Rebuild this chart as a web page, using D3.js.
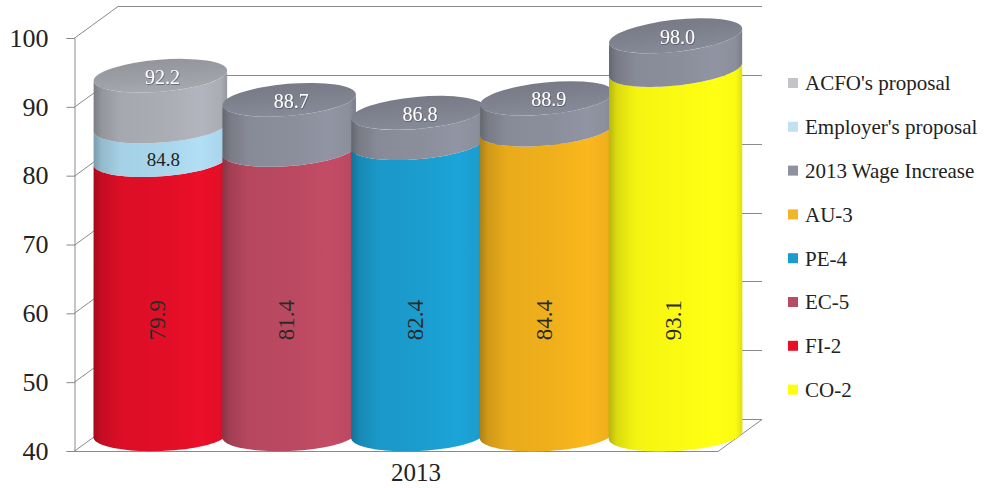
<!DOCTYPE html>
<html><head><meta charset="utf-8">
<script src="https://cdn.jsdelivr.net/npm/d3@7/dist/d3.min.js"></script>
<style>body{margin:0;background:#fff}svg{display:block}</style>
</head><body><svg id="c" width="986" height="488"></svg>
<script>
// ---- data ----
const category = "2013";
const groups = ["FI-2", "EC-5", "PE-4", "AU-3", "CO-2"];
const baseValues = [79.9, 81.4, 82.4, 84.4, 93.1];
const employerValues = [84.8, null, null, null, null];
const topValues = [92.2, 88.7, 86.8, 88.9, 98.0];
const topSeries = ["ACFO's proposal", "2013 Wage Increase", "2013 Wage Increase", "2013 Wage Increase", "2013 Wage Increase"];
const yTicks = [40, 50, 60, 70, 80, 90, 100];
const legendNames = ["ACFO's proposal", "Employer's proposal", "2013 Wage Increase", "AU-3", "PE-4", "EC-5", "FI-2", "CO-2"];
const seriesColors = {
  "ACFO's proposal": "#abadb5",
  "Employer's proposal": "#aad6ec",
  "2013 Wage Increase": "#8b8e9b",
  "AU-3": "#f0b01c",
  "PE-4": "#1b9dcf",
  "EC-5": "#bb4961",
  "FI-2": "#e20e27",
  "CO-2": "#fbfb12"
};
const legendColors = {
  "ACFO's proposal": "#c3c4c8",
  "Employer's proposal": "#bfe1f2",
  "2013 Wage Increase": "#8e929f",
  "AU-3": "#f2b52a",
  "PE-4": "#1d9bcc",
  "EC-5": "#b64c65",
  "FI-2": "#e81028",
  "CO-2": "#fdfd10"
};

// ---- layout ----
const svg = d3.select("#c");
const front = {x0: 74, x1: 718};
const depth = {dx: 44, dy: -32};
const y = d3.scaleLinear().domain([40, 100]).range([451, 38]);
const x = d3.scaleBand().domain(groups)
  .range([front.x0 + depth.dx / 2, front.x1 + depth.dx / 2]).paddingInner(0).paddingOuter(0);
const A = x.bandwidth() * 0.52, B = 16;
const yMid = v => y(v) + depth.dy / 2;

const defs = svg.append("defs");
const sh = defs.append("filter").attr("id", "tshadow").attr("x", "-20%").attr("y", "-20%").attr("width", "140%").attr("height", "140%");
sh.append("feDropShadow").attr("dx", 0.6).attr("dy", 0.8).attr("stdDeviation", 0.6).attr("flood-color", "#3a3c48").attr("flood-opacity", 0.7);
function shadeGrad(id, base) {
  const c = d3.color(base);
  const g = defs.append("linearGradient").attr("id", id)
    .attr("x1", "0").attr("x2", "1").attr("y1", "0").attr("y2", "0");
  [[0, c.darker(0.9)], [0.06, c.darker(0.4)], [0.2, c.darker(0.08)], [0.55, c], [0.8, c.brighter(0.12)], [0.95, c], [1, c.darker(0.35)]]
    .forEach(([o, col]) => g.append("stop").attr("offset", o).attr("stop-color", col.formatHex()));
  return "url(#" + id + ")";
}
function capGrad(id, base) {
  const c = d3.color(base);
  const g = defs.append("linearGradient").attr("id", id)
    .attr("x1", "0").attr("x2", "0").attr("y1", "0").attr("y2", "1");
  [[0, c.darker(0.3)], [0.6, c.darker(0.1)], [1, c.brighter(0.05)]]
    .forEach(([o, col]) => g.append("stop").attr("offset", o).attr("stop-color", col.formatHex()));
  return "url(#" + id + ")";
}

// ---- walls / axes ----
const wall = svg.append("g").attr("stroke", "#8a8a8a").attr("stroke-width", 1).attr("fill", "none");
yTicks.forEach(t => {
  const yy = Math.round(y(t)) + 0.5;
  wall.append("line").attr("x1", front.x0).attr("y1", yy).attr("x2", front.x0 + depth.dx).attr("y2", yy + depth.dy);
  wall.append("line").attr("x1", front.x0 + depth.dx).attr("y1", yy + depth.dy)
    .attr("x2", front.x1 + depth.dx).attr("y2", yy + depth.dy);
});
// floor
wall.append("line").attr("x1", front.x0).attr("y1", y(40) + 0.5).attr("x2", front.x1).attr("y2", y(40) + 0.5);
wall.append("line").attr("x1", front.x1).attr("y1", y(40) + 0.5).attr("x2", front.x1 + depth.dx).attr("y2", y(40) + 0.5 + depth.dy);
// front value axis
const axis = d3.axisLeft(y).tickValues(yTicks).tickSize(8).tickPadding(18).tickFormat(d3.format("d"));
const ag = svg.append("g").attr("transform", `translate(${front.x0 + 0.5},0)`).call(axis);
ag.select(".domain").attr("stroke", "#8a8a8a");
ag.selectAll(".tick line").attr("stroke", "#8a8a8a");
ag.selectAll(".tick text").attr("font-family", "Liberation Serif, serif").attr("font-size", 26).attr("fill", "#222");

// ---- cylinders ----
function tiltFor(i, v) {
  const h = (y(40) - y(v)) / (y(40) - y(100));
  return -(2 + 1.5 * i / (groups.length - 1) + 3 * h) * Math.PI / 180;
}
function ept(cx, cy, th, t) {
  return [cx + A * Math.cos(t) * Math.cos(th) - B * Math.sin(t) * Math.sin(th),
          cy + A * Math.cos(t) * Math.sin(th) + B * Math.sin(t) * Math.cos(th)];
}
function bodyPath(i, v0, v1) {
  const cx = x(groups[i]) + x.bandwidth() / 2;
  const c0 = yMid(v0), c1 = yMid(v1), t0 = tiltFor(i, v0), t1 = tiltFor(i, v1);
  const pts = [];
  const N = 48;
  for (let k = 0; k <= N; k++) pts.push(ept(cx, c0, t0, Math.PI * k / N));
  for (let k = N; k >= 0; k--) pts.push(ept(cx, c1, t1, Math.PI * k / N));
  return "M" + pts.map(p => p[0].toFixed(2) + "," + p[1].toFixed(2)).join("L") + "Z";
}
const cyl = svg.append("g");
const lblFont = "Liberation Serif, serif";
groups.forEach((gname, i) => {
  const cx = x(gname) + x.bandwidth() / 2;
  const g = cyl.append("g");
  const segs = [{name: gname, v0: 40, v1: baseValues[i]}];
  let last = baseValues[i];
  if (employerValues[i] != null) { segs.push({name: "Employer's proposal", v0: last, v1: employerValues[i]}); last = employerValues[i]; }
  segs.push({name: topSeries[i], v0: last, v1: topValues[i]});
  segs.forEach((s, k) => {
    g.append("path").attr("d", bodyPath(i, s.v0, s.v1))
      .attr("fill", shadeGrad("g" + i + "_" + k, seriesColors[s.name]));
  });
  const top = topValues[i];
  const th = tiltFor(i, top) * 180 / Math.PI;
  const capBase = d3.color(seriesColors[topSeries[i]]).darker(0.12);
  g.append("ellipse").attr("cx", cx).attr("cy", yMid(top)).attr("rx", A).attr("ry", B)
    .attr("transform", `rotate(${th},${cx},${yMid(top)})`)
    .attr("fill", capGrad("cap" + i, capBase));
  // top label on cap
  g.append("text").attr("x", cx + 2).attr("y", yMid(top) + 1).attr("dy", "0.35em")
    .attr("text-anchor", "middle").attr("font-family", lblFont).attr("font-size", 20)
    .attr("fill", "#fff").attr("filter", "url(#tshadow)")
    .text(d3.format(".1f")(top));
  // middle (employer) label on front face
  if (employerValues[i] != null) {
    const ym = (yMid(baseValues[i]) + yMid(employerValues[i])) / 2 + B;
    g.append("text").attr("x", cx + 3).attr("y", ym).attr("dy", "0.35em")
      .attr("text-anchor", "middle").attr("font-family", lblFont).attr("font-size", 19)
      .attr("fill", "#222").text(d3.format(".1f")(employerValues[i]));
  }
  // base label rotated
  const ly = y(59);
  g.append("text").attr("transform", `translate(${cx - 3},${ly}) rotate(-90)`)
    .attr("dy", "0.35em").attr("text-anchor", "middle")
    .attr("font-family", lblFont).attr("font-size", 23).attr("fill", "#2a2a2a")
    .text(d3.format(".1f")(baseValues[i]));
});

// category label
svg.append("text").attr("x", x.range()[0] + (x.range()[1] - x.range()[0]) / 2 - 2)
  .attr("y", 481).attr("text-anchor", "middle")
  .attr("font-family", lblFont).attr("font-size", 25).attr("fill", "#222").text(category);

// ---- legend ----
const leg = svg.append("g").attr("transform", "translate(788,83)");
legendNames.forEach((n, k) => {
  const r = leg.append("g").attr("transform", `translate(0,${k * 43.8})`);
  r.append("rect").attr("x", 0).attr("y", -5).attr("width", 10).attr("height", 10).attr("fill", legendColors[n]);
  r.append("text").attr("x", 17).attr("y", 0).attr("dy", "0.35em")
    .attr("font-family", lblFont).attr("font-size", 21).attr("fill", "#222").text(n);
});
</script></body></html>
